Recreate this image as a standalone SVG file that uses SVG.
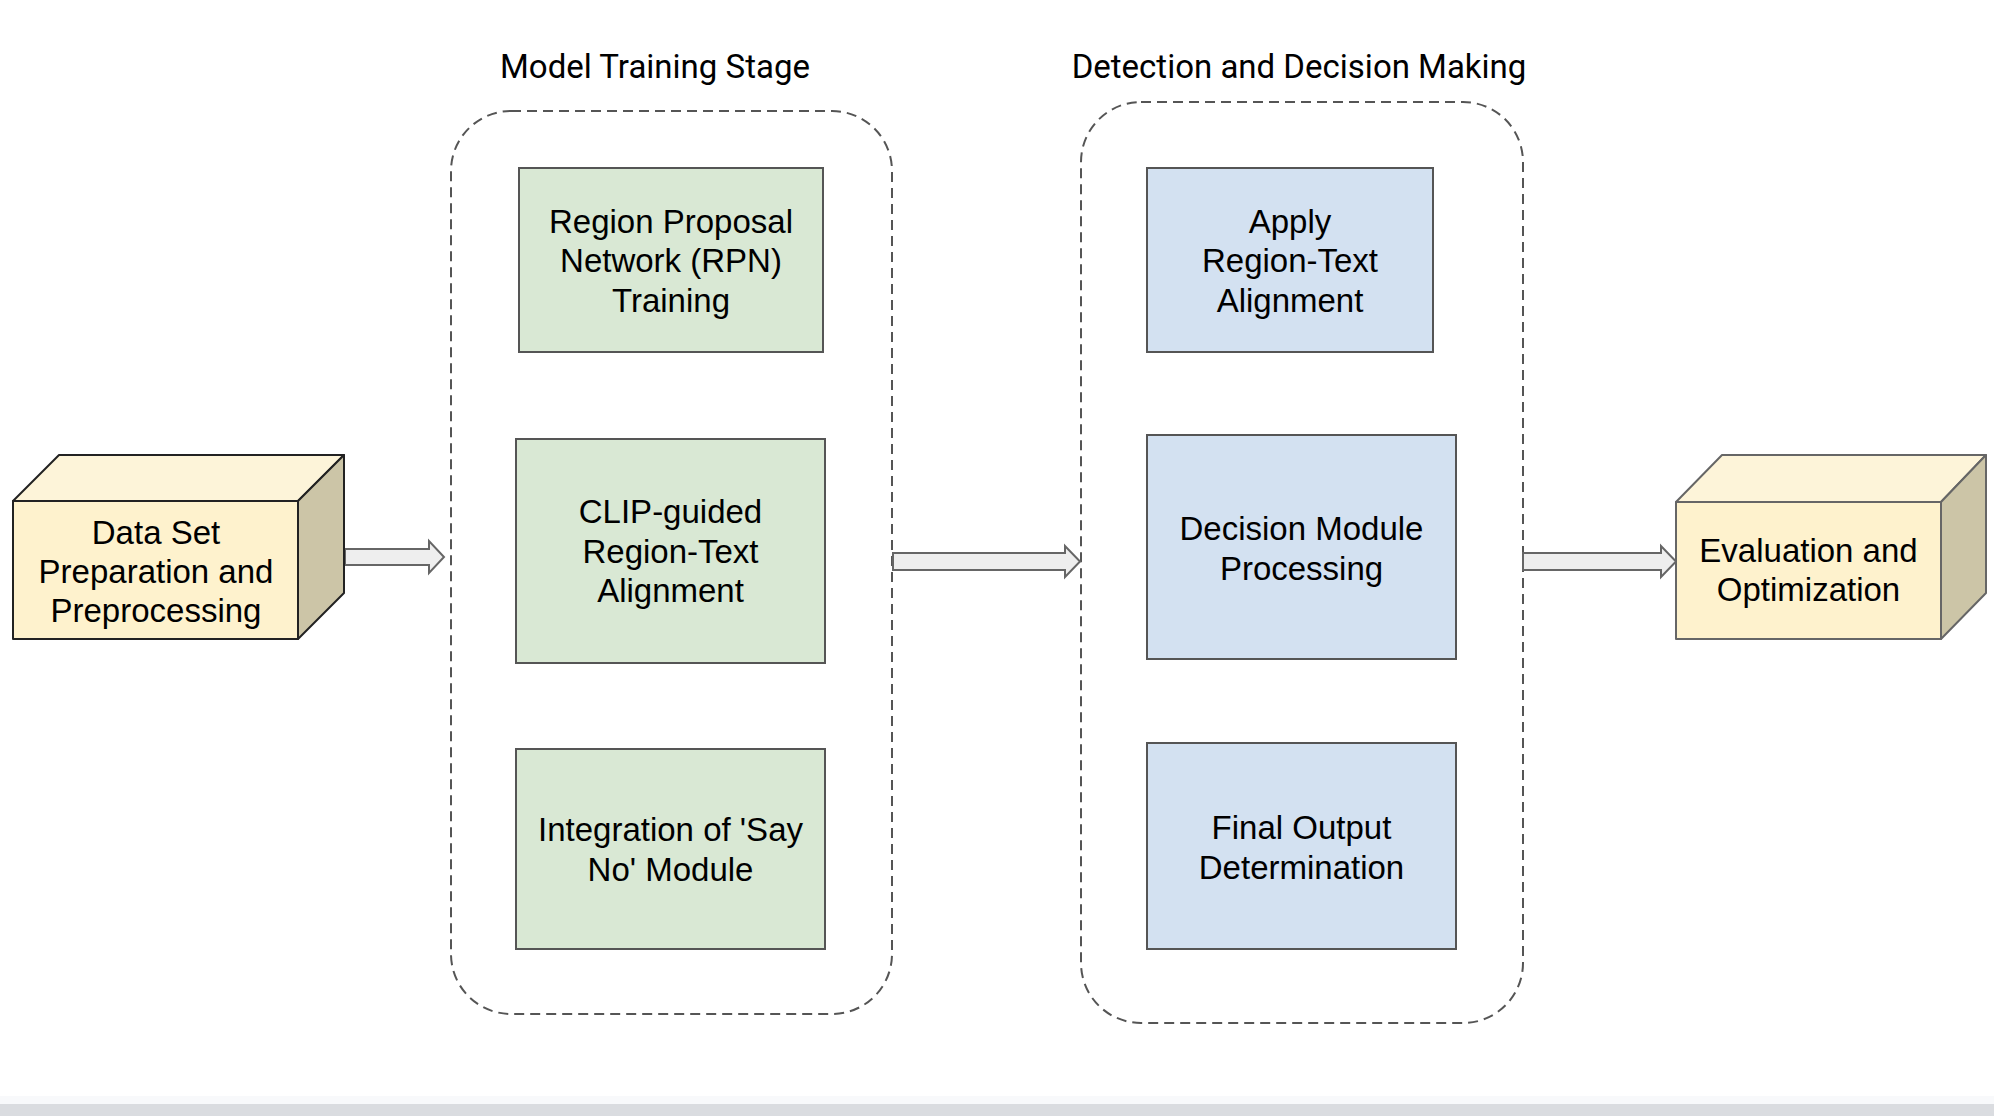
<svg xmlns="http://www.w3.org/2000/svg" width="1994" height="1116" viewBox="0 0 1994 1116">
<style>
.lbl{font-family:"Liberation Sans",Arial,sans-serif;font-size:33px;fill:#000;text-anchor:middle}
.ttl{font-family:Roboto,"Liberation Sans",sans-serif;font-size:33px;fill:#000;text-anchor:middle}
.grp{fill:none;stroke:#555;stroke-width:2;stroke-dasharray:10 6}
.g{fill:#d9e8d4;stroke:#555;stroke-width:2}
.b{fill:#d3e1f1;stroke:#555;stroke-width:2}
.arr{fill:#eeeeee;stroke:#666;stroke-width:2;stroke-linejoin:miter}
.front{fill:#fef2cd}
.top{fill:#fdf4d9}
.side{fill:#ccc5a7}
</style>
<rect x="0" y="0" width="1994" height="1116" fill="#ffffff"/>
<rect x="0" y="1096" width="1994" height="8" fill="#f8f9fb"/>
<rect x="0" y="1104" width="1994" height="12" fill="#dadce0"/>

<g id="stage-training">
<rect class="grp" x="451" y="111" width="441" height="903" rx="60" ry="60"/>
<text class="ttl" x="655" y="78">Model Training Stage</text>
</g>
<g id="stage-detection">
<rect class="grp" x="1081" y="102" width="442" height="921" rx="60" ry="60"/>
<text class="ttl" x="1299" y="78">Detection and Decision Making</text>
</g>

<g id="connectors">
<path class="arr" d="M345,549 L429,549 L429,541 L444,557 L429,573 L429,565 L345,565 Z"/>
<path class="arr" d="M893,553 L1065,553 L1065,546 L1080,561.5 L1065,577 L1065,570 L893,570 Z"/>
<path class="arr" d="M1523,553 L1661,553 L1661,546 L1676,561.5 L1661,577 L1661,570 L1523,570 Z"/>
</g>

<g id="data-set">
<g stroke="#222" stroke-width="2" stroke-linejoin="round">
<polygon class="top" points="13,501 59,455 344,455 298,501"/>
<polygon class="side" points="298,501 344,455 344,593 298,639"/>
<rect class="front" x="13" y="501" width="285" height="138"/>
</g>
<text class="lbl"><tspan x="156" y="544">Data Set</tspan><tspan x="156" y="583">Preparation and</tspan><tspan x="156" y="622">Preprocessing</tspan></text>
</g>

<g id="rpn-training">
<rect class="g" x="519" y="168" width="304" height="184"/>
<text class="lbl"><tspan x="671" y="233">Region Proposal</tspan><tspan x="671" y="272">Network (RPN)</tspan><tspan x="671" y="312">Training</tspan></text>
</g>
<g id="clip-alignment">
<rect class="g" x="516" y="439" width="309" height="224"/>
<text class="lbl"><tspan x="670.5" y="523">CLIP-guided</tspan><tspan x="670.5" y="563">Region-Text</tspan><tspan x="670.5" y="602">Alignment</tspan></text>
</g>
<g id="say-no">
<rect class="g" x="516" y="749" width="309" height="200"/>
<text class="lbl"><tspan x="670.5" y="841">Integration of 'Say</tspan><tspan x="670.5" y="881">No' Module</tspan></text>
</g>

<g id="apply-alignment">
<rect class="b" x="1147" y="168" width="286" height="184"/>
<text class="lbl"><tspan x="1290" y="233">Apply</tspan><tspan x="1290" y="272">Region-Text</tspan><tspan x="1290" y="312">Alignment</tspan></text>
</g>
<g id="decision-module">
<rect class="b" x="1147" y="435" width="309" height="224"/>
<text class="lbl"><tspan x="1301.5" y="540">Decision Module</tspan><tspan x="1301.5" y="580">Processing</tspan></text>
</g>
<g id="final-output">
<rect class="b" x="1147" y="743" width="309" height="206"/>
<text class="lbl"><tspan x="1301.5" y="839">Final Output</tspan><tspan x="1301.5" y="879">Determination</tspan></text>
</g>

<g id="evaluation">
<g stroke="#666" stroke-width="2" stroke-linejoin="round">
<polygon class="top" points="1676,502 1722,455 1986,455 1941,502"/>
<polygon class="side" points="1941,502 1986,455 1986,593 1941,639"/>
<rect class="front" x="1676" y="502" width="265" height="137"/>
</g>
<text class="lbl"><tspan x="1808.5" y="562">Evaluation and</tspan><tspan x="1808.5" y="601">Optimization</tspan></text>
</g>
</svg>
